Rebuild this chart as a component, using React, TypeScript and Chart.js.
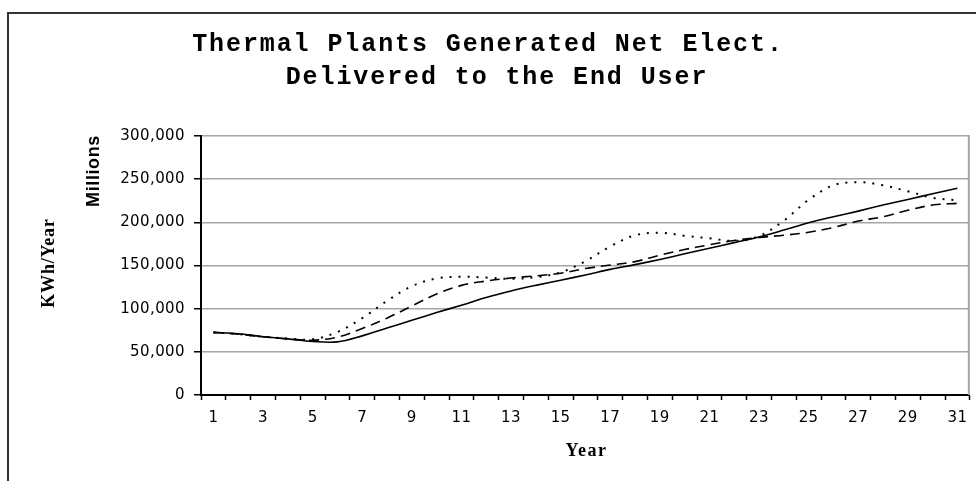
import React, { useEffect, useRef } from "react";
import { Chart, registerables } from "chart.js";

Chart.register(...registerables);

const years = [
  "1", "2", "3", "4", "5", "6", "7", "8", "9", "10",
  "11", "12", "13", "14", "15", "16", "17", "18", "19", "20",
  "21", "22", "23", "24", "25", "26", "27", "28", "29", "30", "31",
];

const solidSeries = [
  72500, 71000, 67500, 65000, 62000, 61500, 68500, 77500, 86500, 95500,
  104000, 113000, 120500, 127000, 133000, 139000, 145500, 151000, 157000, 163500,
  170000, 176500, 183000, 191000, 199500, 206500, 213000, 220000, 226500, 233000, 239500,
];

const dashedSeries = [
  72500, 70500, 67500, 65000, 63500, 67000, 77000, 89000, 103000, 117000,
  127000, 132000, 135500, 138000, 141000, 146500, 150500, 154500, 162000, 168500,
  174000, 179000, 182500, 185000, 188500, 194000, 201500, 206500, 214000, 220000, 222000,
];

const dottedSeries = [
  72500, 70500, 67500, 65500, 64500, 73000, 89000, 109000, 126000, 135000,
  137000, 136000, 134500, 136500, 142000, 155000, 172000, 185000, 188000, 184500,
  181500, 178500, 184000, 202000, 226000, 243000, 246500, 243000, 236000, 228500, 225500,
];

const yMin = 0;
const yMax = 300000;
const yStep = 50000;

const titleLines = ["Thermal Plants Generated Net Elect.", "Delivered to the End User"];
const yTitleOuter = "KWh/Year";
const yTitleInner = "Millions";
const xTitle = "Year";

export default function App() {
  const ref = useRef<HTMLCanvasElement>(null);

  useEffect(() => {
    const canvas = ref.current;
    if (!canvas) return;

    const decor = {
      id: "decor",
      beforeDraw(chart: any) {
        const ctx = chart.ctx;
        ctx.save();
        ctx.fillStyle = "#fff";
        ctx.fillRect(0, 0, chart.width, chart.height);
        ctx.restore();
        (ctx as any).letterSpacing = "0.4px";
      },
      afterDraw(chart: any) {
        const ctx = chart.ctx;
        const a = chart.chartArea;
        ctx.save();
        // plot area right edge
        ctx.strokeStyle = "#a6a6a6";
        ctx.lineWidth = 2;
        ctx.beginPath();
        ctx.moveTo(a.right - 1, a.top);
        ctx.lineTo(a.right - 1, a.bottom);
        ctx.stroke();
        // outer frame
        ctx.strokeStyle = "#333";
        ctx.lineWidth = 2;
        ctx.beginPath();
        ctx.moveTo(8, chart.height);
        ctx.lineTo(8, 13);
        ctx.lineTo(chart.width, 13);
        ctx.stroke();

        ctx.fillStyle = "#000";
        ctx.textAlign = "center";
        ctx.textBaseline = "middle";
        // title
        (ctx as any).letterSpacing = "1.9px";
        ctx.font = "bold 25px 'Liberation Mono'";
        ctx.fillText(titleLines[0], 488, 45);
        ctx.fillText(titleLines[1], 497, 78);
        // x title
        (ctx as any).letterSpacing = "1.5px";
        ctx.font = "bold 18px 'Liberation Serif'";
        ctx.fillText(xTitle, (a.left + a.right) / 2 + 1, 451);
        // y titles
        ctx.save();
        ctx.translate(49, 263);
        ctx.rotate(-Math.PI / 2);
        (ctx as any).letterSpacing = "0.8px";
        ctx.font = "bold 18px 'Liberation Serif'";
        ctx.fillText(yTitleOuter, 0, 0);
        ctx.restore();
        ctx.save();
        ctx.translate(94, 171);
        ctx.rotate(-Math.PI / 2);
        (ctx as any).letterSpacing = "0.6px";
        ctx.font = "bold 18px 'Liberation Sans'";
        ctx.fillText(yTitleInner, 0, 0);
        ctx.restore();
        ctx.restore();
      },
    };

    const tickFont = { family: "'DejaVu Sans'", size: 15 };

    const chart = new Chart(canvas, {
      type: "line",
      data: {
        labels: years,
        datasets: [
          {
            label: "Solid",
            data: solidSeries,
            borderColor: "#000",
            borderWidth: 1.6,
            pointRadius: 0,
            tension: 0.35,
            fill: false,
          },
          {
            label: "Dashed",
            data: dashedSeries,
            borderColor: "#000",
            borderWidth: 1.6,
            borderDash: [10, 6],
            pointRadius: 0,
            tension: 0.35,
            fill: false,
          },
          {
            label: "Dotted",
            data: dottedSeries,
            borderColor: "#000",
            borderWidth: 2,
            borderDash: [2, 7],
            pointRadius: 0,
            tension: 0.35,
            fill: false,
          },
        ],
      },
      options: {
        responsive: false,
        devicePixelRatio: 1,
        animation: false,
        layout: { padding: { top: 136, right: 3, left: 0, bottom: 0 } },
        plugins: {
          legend: { display: false },
          title: { display: false },
          tooltip: { enabled: false },
        },
        scales: {
          x: {
            type: "category",
            offset: true,
            grid: {
              display: true,
              offset: true,
              drawOnChartArea: false,
              drawTicks: true,
              tickLength: 5,
              tickColor: "#000",
              color: "#000",
              tickWidth: 1.5,
            },
            border: { color: "#000", width: 2 },
            ticks: {
              autoSkip: false,
              maxRotation: 0,
              minRotation: 0,
              padding: 9,
              color: "#000",
              font: tickFont,
              callback: (_v: any, i: number) => (i % 2 === 0 ? years[i] : ""),
            },
            afterFit: (s: any) => {
              s.height = 86;
            },
          },
          y: {
            min: yMin,
            max: yMax,
            grid: {
              color: (c: any) => (c.tick && c.tick.value === 0 ? "rgba(0,0,0,0)" : "#a6a6a6"),
              lineWidth: 1.5,
              tickColor: "#000",
              tickLength: 7,
              tickWidth: 1.5,
              drawTicks: true,
            },
            border: { color: "#000", width: 2 },
            ticks: {
              stepSize: yStep,
              padding: 9,
              color: "#000",
              font: tickFont,
              callback: (v: any) => Number(v).toLocaleString("en-US"),
            },
            afterFit: (s: any) => {
              s.width = 201;
            },
          },
        },
      },
      plugins: [decor],
    } as any);

    return () => chart.destroy();
  }, []);

  return (
    <div style={{ position: "fixed", left: 0, top: 0, width: 976, height: 481, background: "#fff" }}>
      <canvas ref={ref} width={976} height={481} style={{ display: "block", width: 976, height: 481 }} />
    </div>
  );
}
